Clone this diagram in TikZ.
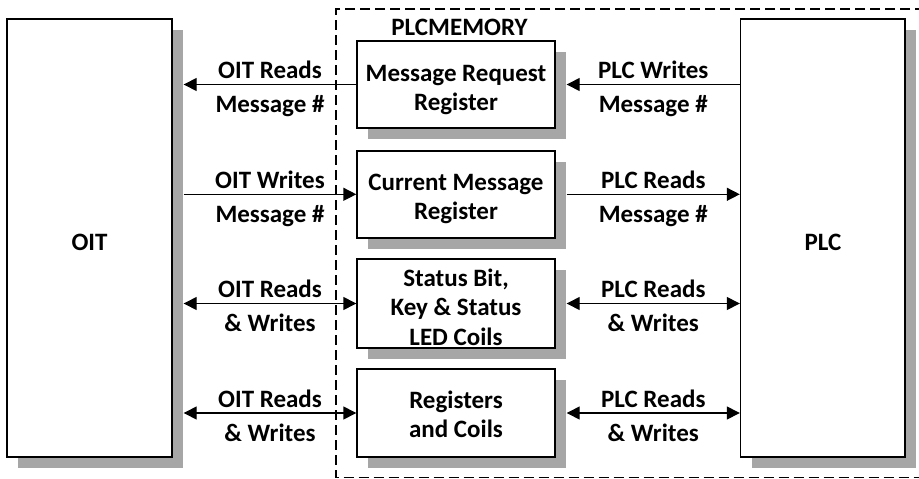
\documentclass[tikz,border=0pt]{standalone}
\usepackage{fontspec}
\setmainfont{Carlito}
\usetikzlibrary{arrows.meta,shadows}
\definecolor{shadowgray}{HTML}{A6A6A6}
\begin{document}
\begin{tikzpicture}[x=1pt,y=-1pt,
  txt/.style={font=\fontsize{25}{29}\selectfont\bfseries, inner sep=0pt, anchor=base},
  blk/.style={draw=black, line width=1.4pt, fill=white, inner sep=0pt,
    drop shadow={shadow xshift=11pt, shadow yshift=-11pt, fill=shadowgray, opacity=1}},
  conn/.style={line width=1.4pt, -{Triangle[length=13pt,width=13pt]}},
  conn2/.style={line width=1.4pt, {Triangle[length=13pt,width=13pt]}-{Triangle[length=13pt,width=13pt]}},
  lab/.style={txt, pos=0.5},
  above lab/.style={lab, yshift=6pt},
  below lab/.style={lab, yshift=-28pt}
]
\useasboundingbox (0,0) rectangle (919,479);
% dashed PLC memory frame
\draw[line width=1.2pt, dash pattern=on 10pt off 5pt] (925,9) -- (336,9) -- (336,477.5) -- (925,477.5);
\node[txt] (mem) at (459.5,35) {PLCMEMORY};

% big boxes
\node[blk, minimum width=165pt, minimum height=438pt] (OIT) at (89.5,238) {};
\node[blk, minimum width=164.5pt, minimum height=438pt] (PLC) at (822.75,238) {};
\node[txt] (toit) at (89.5,250) {OIT};
\node[txt] (tplc) at (823,250) {PLC};

% inner boxes
\node[blk, minimum width=198pt, minimum height=87pt] (B1) at (456,84.5) {};
\node[blk, minimum width=198pt, minimum height=87pt] (B2) at (456,194.3) {};
\node[blk, minimum width=198pt, minimum height=89pt] (B3) at (456,303.5) {};
\node[blk, minimum width=198pt, minimum height=88pt] (B4) at (456,413) {};

\node[txt] (b1a) at (456,81.7) {Message Request};
\node[txt] (b1b) at (456,110) {Register};
\node[txt] (b2a) at (456,190.5) {Current Message};
\node[txt] (b2b) at (456,219.5) {Register};
\node[txt] (b3a) at (456,286.7) {Status Bit,};
\node[txt] (b3b) at (456,315.7) {Key \& Status};
\node[txt] (b3c) at (456,345) {LED Coils};
\node[txt] (b4a) at (456,408) {Registers};
\node[txt] (b4b) at (456,437) {and Coils};

% row 1
\draw[conn] (B1.west) -- node[above lab]{OIT Reads} node[below lab]{Message \#} ([xshift=11pt]B1.west -| OIT.east);
\draw[conn] (PLC.west |- B1.east) -- node[above lab]{PLC Writes} node[below lab]{Message \#} ([xshift=11pt]B1.east);
% row 2
\draw[conn] ([xshift=11pt]B2.west -| OIT.east) -- node[above lab]{OIT Writes} node[below lab]{Message \#} (B2.west);
\draw[conn] ([xshift=11pt]B2.east) -- node[above lab]{PLC Reads} node[below lab]{Message \#} (PLC.west |- B2.east);
% row 3
\draw[conn2] ([xshift=11pt]B3.west -| OIT.east) -- node[above lab]{OIT Reads} node[below lab]{\& Writes} (B3.west);
\draw[conn2] ([xshift=11pt]B3.east) -- node[above lab]{PLC Reads} node[below lab]{\& Writes} (PLC.west |- B3.east);
% row 4
\draw[conn2] ([xshift=11pt]B4.west -| OIT.east) -- node[above lab]{OIT Reads} node[below lab]{\& Writes} (B4.west);
\draw[conn2] ([xshift=11pt]B4.east) -- node[above lab]{PLC Reads} node[below lab]{\& Writes} (PLC.west |- B4.east);
\end{tikzpicture}
\end{document}
